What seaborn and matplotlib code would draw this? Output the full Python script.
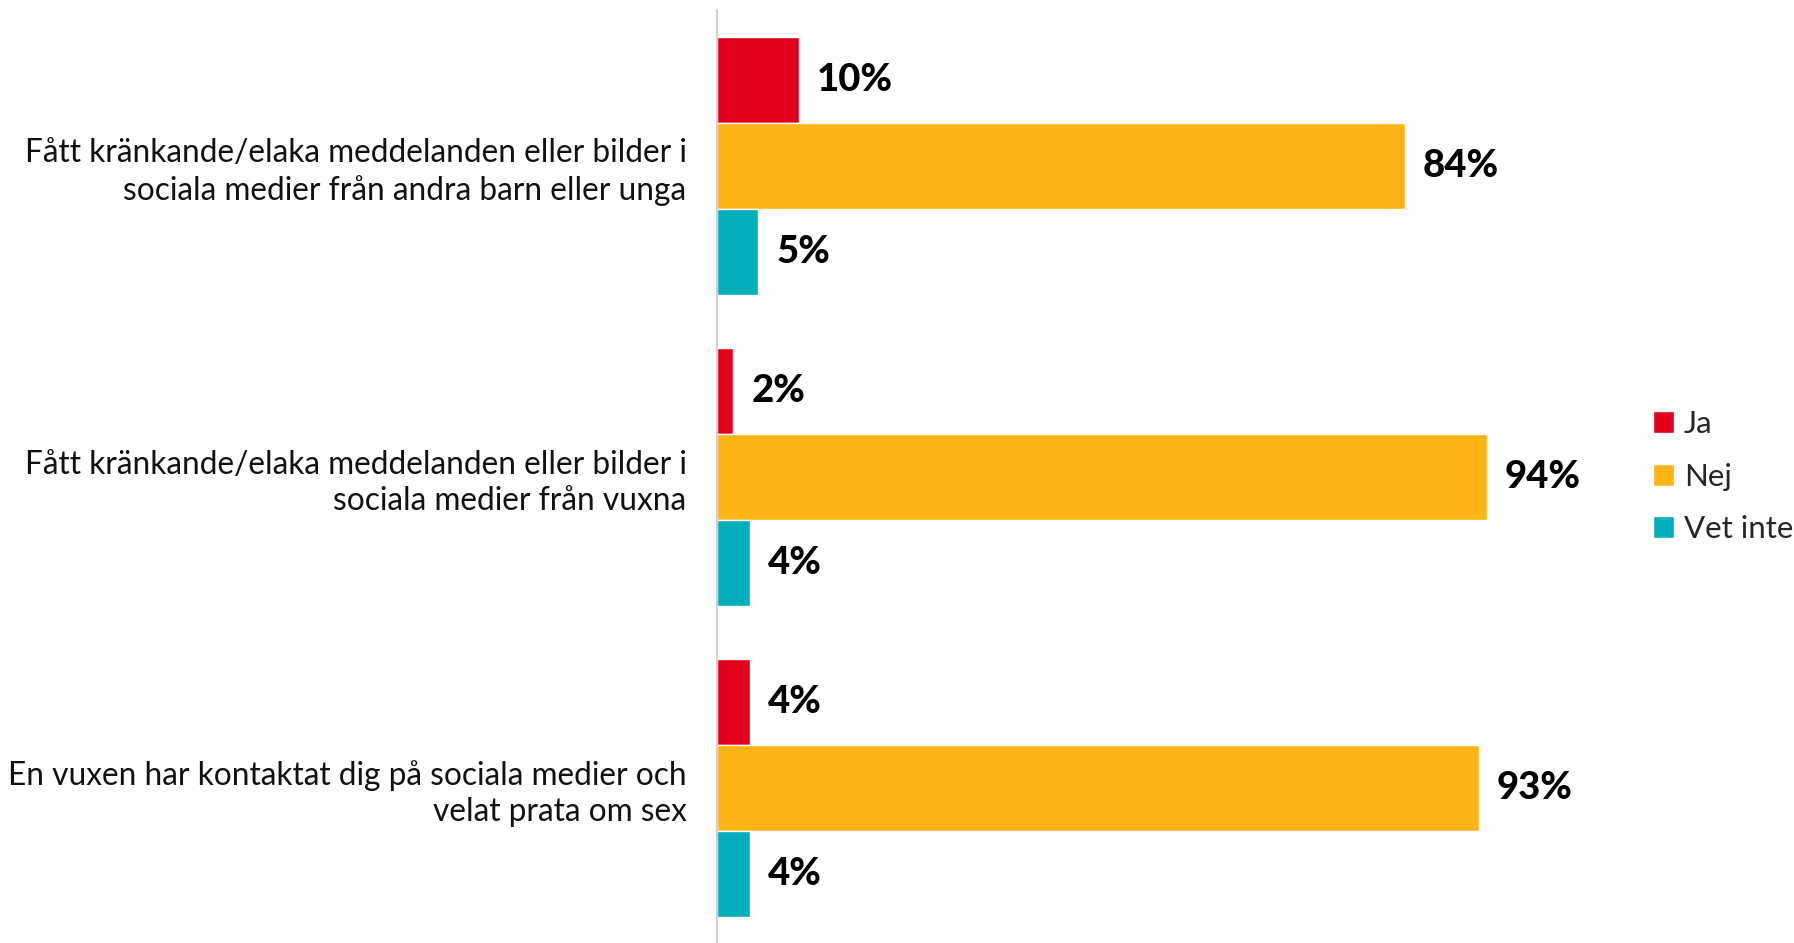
import matplotlib
matplotlib.use("Agg")
import matplotlib.pyplot as plt
import seaborn as sns
import pandas as pd

categories = [
    "Fått kränkande/elaka meddelanden eller bilder i\nsociala medier från andra barn eller unga",
    "Fått kränkande/elaka meddelanden eller bilder i\nsociala medier från vuxna",
    "En vuxen har kontaktat dig på sociala medier och\nvelat prata om sex",
]
series = ["Ja", "Nej", "Vet inte"]
ja = [10, 2, 4]
nej = [84, 94, 93]
vet_inte = [5, 4, 4]
colors = ["#E3001B", "#FDB417", "#00AEBC"]

rows = []
for s, vals in zip(series, [ja, nej, vet_inte]):
    for c, v in zip(categories, vals):
        rows.append({"cat": c, "serie": s, "val": v})
df = pd.DataFrame(rows)

sns.set_theme(style="white")
plt.rcParams["font.family"] = ["Lato", "DejaVu Sans"]

fig = plt.figure(figsize=(17.94, 9.43), dpi=100)
ax = fig.add_axes([0.3997, 0.0, 0.4565, 0.989])

sns.barplot(data=df, y="cat", x="val", hue="serie", order=categories,
            hue_order=series, palette=colors, orient="h", width=0.83,
            gap=0, saturation=1, ax=ax, legend=True)

ax.set_xlim(0, 100)
ax.set_ylim(2.5, -0.5)
ax.set_xlabel("")
ax.set_ylabel("")
ax.set_xticks([])
for sp in ["top", "right", "bottom"]:
    ax.spines[sp].set_visible(False)
ax.spines["left"].set_color("#d0d0d0")
ax.spines["left"].set_linewidth(1.5)
ax.tick_params(axis="y", length=0, pad=22, labelsize=22.8)
for t in ax.get_yticklabels():
    t.set_linespacing(1.25)
    t.set_color("#111111")

for cont in ax.containers:
    ax.bar_label(cont, labels=[f"{int(v)}%" for v in cont.datavalues],
                 padding=13, fontsize=27.5, fontweight="black", color="black")

leg = ax.legend(loc="center left", bbox_to_anchor=(1.108, 0.5), frameon=False,
                fontsize=22.5, handlelength=0.7, handleheight=0.7,
                handletextpad=0.3, labelspacing=0.78)

fig.savefig("out.png", dpi=100)
